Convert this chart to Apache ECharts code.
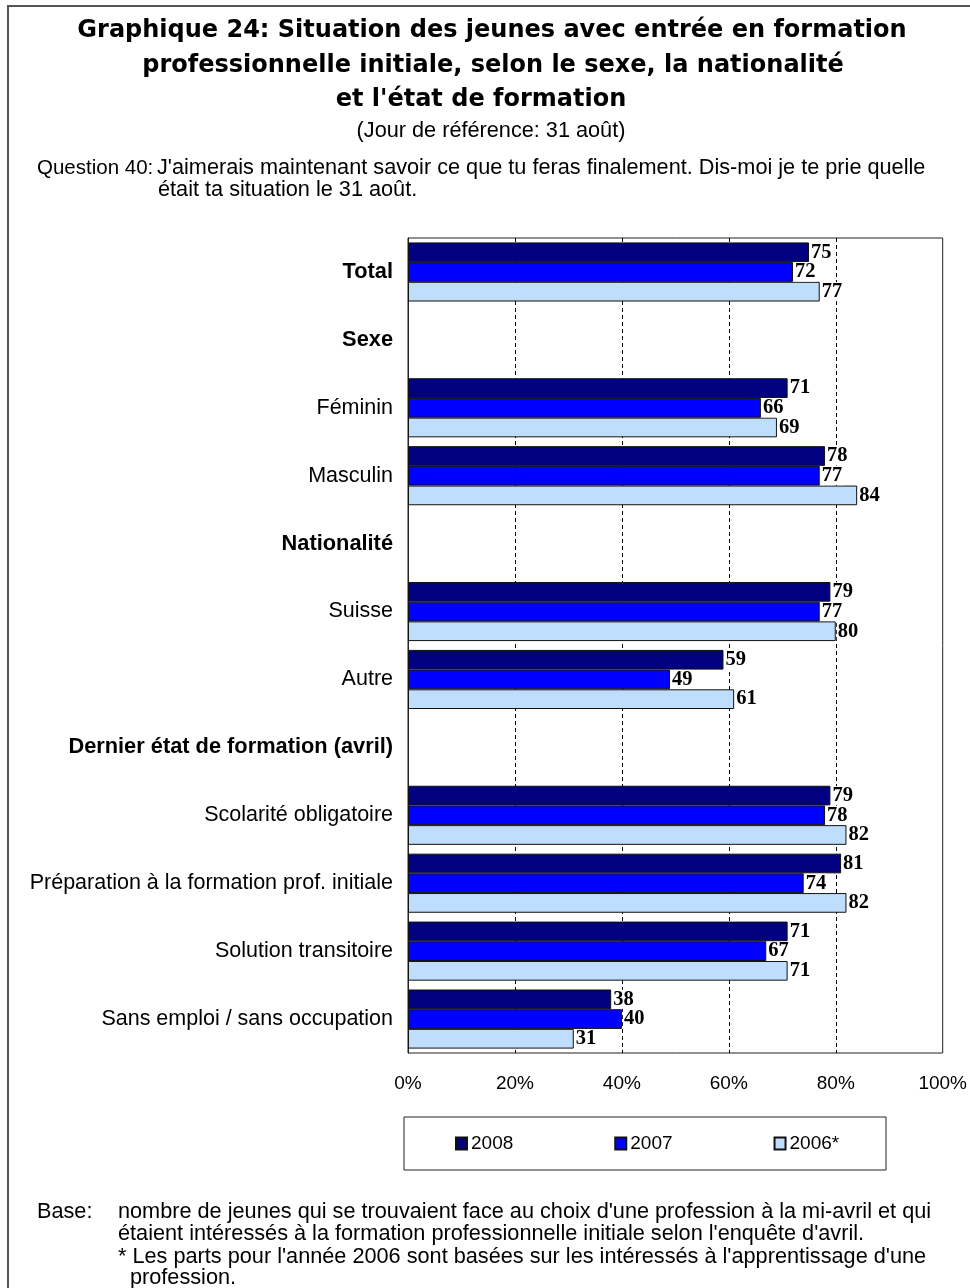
<!DOCTYPE html>
<html>
<head>
<meta charset="utf-8">
<script src="https://cdn.jsdelivr.net/npm/echarts@6/dist/echarts.min.js"></script>
<style>html,body{margin:0;padding:0;background:#fff;}#c{width:970px;height:1288px;}</style>
</head>
<body>
<div id="c"></div>
<script>
const categories = ['Total', 'Sexe', 'Féminin', 'Masculin', 'Nationalité', 'Suisse', 'Autre',
  'Dernier état de formation (avril)', 'Scolarité obligatoire',
  'Préparation à la formation prof. initiale', 'Solution transitoire', 'Sans emploi / sans occupation'];
const headerRows = ['Total', 'Sexe', 'Nationalité', 'Dernier état de formation (avril)'];
const seriesNames = ['2008', '2007', '2006*'];
const values2008 = [75, null, 71, 78, null, 79, 59, null, 79, 81, 71, 38];
const values2007 = [72, null, 66, 77, null, 77, 49, null, 78, 74, 67, 40];
const values2006 = [77, null, 69, 84, null, 80, 61, null, 82, 82, 71, 31];
const xTicks = [0, 20, 40, 60, 80, 100];

const titleLines = ['Graphique 24: Situation des jeunes avec entrée en formation',
  'professionnelle initiale, selon le sexe, la nationalité', "et l'état de formation"];
const subtitle = '(Jour de référence: 31 août)';
const questionLabel = 'Question 40:';
const questionText = ["J'aimerais maintenant savoir ce que tu feras finalement. Dis-moi je te prie quelle",
  'était ta situation le 31 août.'];
const baseLabel = 'Base:';
const baseText = ["nombre de jeunes qui se trouvaient face au choix d'une profession à la mi-avril et qui",
  "étaient intéressés à la formation professionnelle initiale selon l'enquête d'avril."];
const noteText = ["* Les parts pour l'année 2006 sont basées sur les intéressés à l'apprentissage d'une",
  'profession.'];

const colors = ['#000080', '#0000FF', '#BFDDFD'];
const SANS = '"Liberation Sans", Arial, sans-serif';
const SERIF = '"Liberation Serif", "Times New Roman", serif';
const TITLE_FONT = 'bold 24px "DejaVu Sans", sans-serif';
const BODY_FONT = '21.7px ' + SANS;

const chart = echarts.init(document.getElementById('c'), null, {renderer: 'canvas'});

function txt(x, y, text, opts) {
  return {
    type: 'text', x: x, y: y, silent: true,
    style: Object.assign({text: text, fill: '#000', font: BODY_FONT, textVerticalAlign: 'middle'}, opts || {})
  };
}

const graphics = [
  {type: 'rect', shape: {x: 8, y: 6, width: 1000, height: 1320}, style: {fill: 'none', stroke: '#555', lineWidth: 2}, silent: true},
  txt(492, 31, titleLines[0], {font: TITLE_FONT, textAlign: 'center'}),
  txt(493, 66, titleLines[1], {font: TITLE_FONT, textAlign: 'center'}),
  txt(481, 100, titleLines[2], {font: TITLE_FONT, textAlign: 'center'}),
  txt(491, 131, subtitle, {textAlign: 'center'}),
  txt(37, 168, questionLabel, {font: '20.5px ' + SANS}),
  txt(157, 168, questionText[0]),
  txt(158, 190, questionText[1]),
  txt(37, 1212, baseLabel),
  txt(118, 1212, baseText[0]),
  txt(118, 1234, baseText[1]),
  txt(118, 1257, noteText[0]),
  txt(130, 1278, noteText[1]),
  {type: 'rect', shape: {x: 404, y: 1117, width: 482, height: 53}, style: {fill: 'none', stroke: '#222', lineWidth: 1}, silent: true}
];

function mkSeries(name, data, color) {
  return {
    name: name, type: 'bar', data: data,
    barGap: '0%', barCategoryGap: '13%',
    itemStyle: {color: color, borderColor: '#111', borderWidth: 1},
    label: {
      show: true, position: 'right', distance: 1,
      color: '#000', fontFamily: SERIF, fontWeight: 'bold', fontSize: 20.5,
      backgroundColor: '#fff', padding: [0, 1, 0, 1], lineHeight: 19,
      formatter: p => p.value
    },
    emphasis: {disabled: true}
  };
}

chart.setOption({
  animation: false,
  backgroundColor: '#fff',
  grid: {left: 408, right: 25, top: 238, bottom: 235, show: true, borderColor: '#222', borderWidth: 1, backgroundColor: 'transparent'},
  legend: {
    data: seriesNames, left: 455, top: 1134, itemGap: 101, itemWidth: 11, itemHeight: 12,
    icon: 'rect', padding: 0,
    textStyle: {fontFamily: SANS, fontSize: 19, color: '#000', padding: [0, 0, 0, -1]}
  },
  xAxis: {
    type: 'value', min: 0, max: 100, interval: 20,
    axisLine: {show: false}, axisTick: {show: false},
    axisLabel: {formatter: v => xTicks.includes(v) ? v + '%' : '', fontFamily: SANS, fontSize: 19, color: '#000', margin: 21},
    splitLine: {show: true, showMinLine: false, showMaxLine: false, lineStyle: {color: '#000', type: [4, 3], width: 1}}
  },
  yAxis: {
    type: 'category', data: categories, inverse: true,
    axisLine: {show: true, lineStyle: {color: '#222'}}, axisTick: {show: false},
    axisLabel: {
      fontFamily: SANS, fontSize: 21.5, color: '#000', margin: 15,
      formatter: v => headerRows.includes(v) ? '{b|' + v + '}' : v,
      rich: {b: {fontFamily: SANS, fontSize: 21.8, fontWeight: 'bold', color: '#000'}}
    }
  },
  series: [mkSeries(seriesNames[0], values2008, colors[0]), mkSeries(seriesNames[1], values2007, colors[1]), mkSeries(seriesNames[2], values2006, colors[2])],
  graphic: graphics
});
</script>
</body>
</html>
